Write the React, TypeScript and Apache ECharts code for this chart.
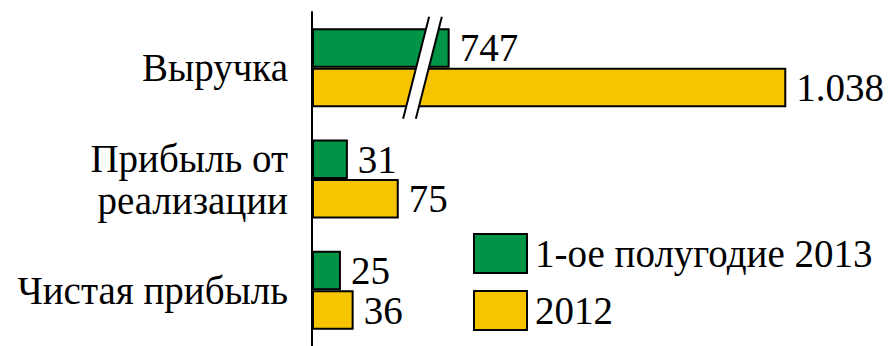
import React, { useEffect, useRef } from "react";
import * as echarts from "echarts";

// Categories (top to bottom) and series
const categories = ["Выручка", "Прибыль от\nреализации", "Чистая прибыль"];
const seriesNames = ["1-ое полугодие 2013", "2012"];
const values2013 = [747, 31, 25];
const values2012 = [1038, 75, 36];

// Value axis with a break that hides the long middle part of the revenue bars
const axisMax = 1100;
const breakStart = 90;
const breakEnd = 729;
const breakGap = 11;

const GREEN = "#009446";
const YELLOW = "#F7C400";
const FONT = "'Liberation Serif', 'DejaVu Serif', serif";
const FONT_SIZE = 39;

// Russian style thousands separator: 1038 -> "1.038"
function formatValue(v: number): string {
  return String(Math.round(v)).replace(/\B(?=(\d{3})+(?!\d))/g, ".");
}

export default function App() {
  const ref = useRef<HTMLDivElement>(null);

  useEffect(() => {
    if (!ref.current) return;
    const chart = echarts.init(ref.current, null, { renderer: "svg" });

    const valueLabel = {
      show: true,
      position: "right" as const,
      distance: 10,
      color: "#000",
      fontFamily: FONT,
      fontSize: FONT_SIZE,
      formatter: (p: any) => formatValue(p.value),
    };

    chart.setOption({
      animation: false,
      textStyle: { fontFamily: FONT },
      grid: { left: 312, top: 12, right: 31, height: 339, containLabel: false },
      legend: {
        orient: "vertical",
        left: 468,
        top: 228,
        itemWidth: 53,
        itemHeight: 39,
        itemGap: 16,
        icon: "rect",
        textStyle: {
          color: "#000",
          fontFamily: FONT,
          fontSize: FONT_SIZE,
          padding: [0, 0, 0, 3],
        },
        data: seriesNames,
      },
      xAxis: {
        type: "value",
        min: 0,
        max: axisMax,
        breaks: [{ start: breakStart, end: breakEnd, gap: breakGap }],
        breakArea: { show: false },
        axisLine: { show: false },
        axisTick: { show: false },
        axisLabel: { show: false },
        splitLine: { show: false },
      },
      yAxis: {
        type: "category",
        inverse: true,
        data: categories,
        axisLine: { show: true, lineStyle: { color: "#000", width: 2 } },
        axisTick: { show: false },
        axisLabel: {
          color: "#000",
          fontFamily: FONT,
          fontSize: FONT_SIZE,
          lineHeight: 42,
          margin: 24,
        },
      },
      series: [
        {
          name: seriesNames[0],
          type: "bar",
          data: values2013,
          barCategoryGap: "29%",
          barGap: "0%",
          itemStyle: { color: GREEN, borderColor: "#000", borderWidth: 2 },
          label: valueLabel,
        },
        {
          name: seriesNames[1],
          type: "bar",
          data: values2012,
          barCategoryGap: "29%",
          barGap: "0%",
          itemStyle: { color: YELLOW, borderColor: "#000", borderWidth: 2 },
          label: valueLabel,
        },
      ],
    });

    // Slanted break marker across the revenue bars
    const x0 = chart.convertToPixel({ xAxisIndex: 0 }, breakStart) as number;
    const x1 = chart.convertToPixel({ xAxisIndex: 0 }, breakEnd) as number;
    const cy = chart.convertToPixel({ yAxisIndex: 0 }, categories[0]) as number;
    const halfH = 51;
    const skew = 13;
    chart.setOption({
      graphic: [
        {
          type: "polygon",
          z: 100,
          shape: {
            points: [
              [x0 + skew, cy - halfH],
              [x1 + skew, cy - halfH],
              [x1 - skew, cy + halfH],
              [x0 - skew, cy + halfH],
            ],
          },
          style: { fill: "#fff" },
        },
        {
          type: "line",
          z: 101,
          shape: { x1: x0 + skew, y1: cy - halfH, x2: x0 - skew, y2: cy + halfH },
          style: { stroke: "#000", lineWidth: 2 },
        },
        {
          type: "line",
          z: 101,
          shape: { x1: x1 + skew, y1: cy - halfH, x2: x1 - skew, y2: cy + halfH },
          style: { stroke: "#000", lineWidth: 2 },
        },
      ],
    });

    return () => chart.dispose();
  }, []);

  return (
    <div
      ref={ref}
      style={{ position: "fixed", left: 0, top: 0, width: 889, height: 346, background: "#fff" }}
    />
  );
}
